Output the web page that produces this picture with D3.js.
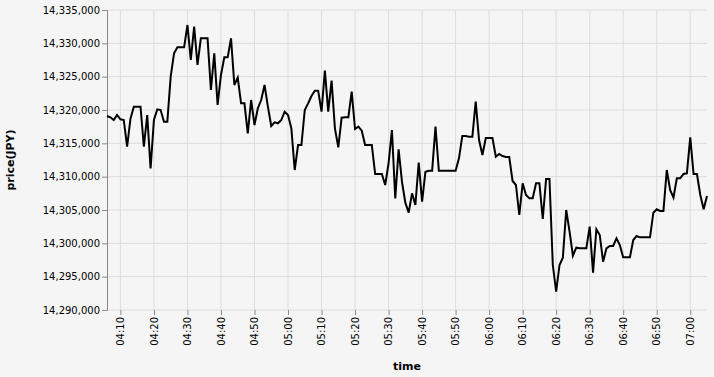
<!DOCTYPE html>
<html>
<head>
<meta charset="utf-8">
<script src="https://cdn.jsdelivr.net/npm/d3@7"></script>
<style>
  html, body { margin: 0; padding: 0; background: #f5f5f5; }
  svg { display: block; font-family: "DejaVu Sans", sans-serif; }
</style>
</head>
<body>
<svg id="drawing_region"></svg>
<script>
// one price per minute, starting 04:06
const start_time = "04:06";
const prices = [
    14319100, 14318900, 14318500, 14319250, 14318600, 14318500, 14314500, 14318700, 14320500, 14320500,
    14320500, 14314500, 14319250, 14311250, 14318500, 14320100, 14320000, 14318250, 14318250, 14325000,
    14328500, 14329400, 14329400, 14329400, 14332750, 14327500, 14332500, 14326750, 14330750, 14330750,
    14330750, 14323000, 14328500, 14320750, 14325250, 14327900, 14327900, 14330750, 14323750, 14324850,
    14321000, 14321000, 14316500, 14321500, 14317750, 14320250, 14321500, 14323750, 14320500, 14317600,
    14318150, 14318000, 14318500, 14319750, 14319250, 14317250, 14311000, 14314750, 14314750, 14320000,
    14321000, 14322100, 14322900, 14322900, 14319750, 14325900, 14319750, 14324400, 14317250, 14314400,
    14318850, 14318900, 14318900, 14322750, 14317150, 14317500, 14316900, 14314750, 14314750, 14314750,
    14310400, 14310400, 14310400, 14308750, 14312000, 14317000, 14306750, 14314100, 14309250, 14306100,
    14304600, 14307500, 14305750, 14312100, 14306250, 14310750, 14310900, 14310900, 14317500, 14310900,
    14310900, 14310900, 14310900, 14310900, 14310900, 14312750, 14316100, 14316100, 14316000, 14316000,
    14321250, 14315500, 14313250, 14315800, 14315800, 14315800, 14313000, 14313400, 14313100, 14312950,
    14312950, 14309350, 14308750, 14304250, 14309000, 14307250, 14306750, 14306750, 14309000, 14309000,
    14303650, 14309650, 14309650, 14296750, 14292750, 14296750, 14297850, 14305000, 14301750, 14298150,
    14299350, 14299250, 14299250, 14299250, 14302500, 14295600, 14302100, 14301250, 14297250, 14299250,
    14299600, 14299600, 14300750, 14299750, 14297900, 14297900, 14297900, 14300500, 14301100, 14300900,
    14300900, 14300900, 14300900, 14304600, 14305100, 14304850, 14304850, 14311000, 14308000, 14306850,
    14309750, 14309750, 14310400, 14310500, 14315900, 14310400, 14310400, 14307250, 14305100, 14307100
];
const y_ticks = [14290000, 14295000, 14300000, 14305000, 14310000, 14315000, 14320000, 14325000, 14330000, 14335000];
const x_tick_labels = ["04:10", "04:20", "04:30", "04:40", "04:50", "05:00", "05:10", "05:20", "05:30",
    "05:40", "05:50", "06:00", "06:10", "06:20", "06:30", "06:40", "06:50", "07:00"];

const parse_time = d3.timeParse("%H:%M");
const t0 = parse_time(start_time);
const data = prices.map((p, i) => ({ time: d3.timeMinute.offset(t0, i), price: p }));

class LineChart {

    constructor(config, data) {
        this.config = config;
        this.data = data;
        this.init();
    }

    init() {
        let self = this;

        self.svg = d3.select(self.config.parent)
            .attr('width', self.config.width)
            .attr('height', self.config.height);

        self.chart = self.svg.append('g')
            .attr('transform', `translate(${self.config.margin.left}, ${self.config.margin.top})`);

        self.inner_width = self.config.width - self.config.margin.left - self.config.margin.right;
        self.inner_height = self.config.height - self.config.margin.top - self.config.margin.bottom;

        self.xscale = d3.scaleTime()
            .domain(d3.extent(self.data, d => d.time))
            .range([0, self.inner_width]);

        self.yscale = d3.scaleLinear()
            .domain([y_ticks[0], y_ticks[y_ticks.length - 1]])
            .range([self.inner_height, 0]);

        self.xaxis = d3.axisBottom(self.xscale)
            .tickValues(x_tick_labels.map(parse_time))
            .tickFormat(d3.timeFormat("%H:%M"))
            .tickSize(5)
            .tickPadding(2);

        self.yaxis = d3.axisLeft(self.yscale)
            .tickValues(y_ticks)
            .tickFormat(d3.format(","))
            .tickSize(5)
            .tickPadding(2);
    }

    render() {
        let self = this;

        // grid
        self.chart.append('g')
            .selectAll('line')
            .data(y_ticks)
            .join('line')
            .attr('x1', 0).attr('x2', self.inner_width)
            .attr('y1', d => self.yscale(d)).attr('y2', d => self.yscale(d))
            .attr('stroke', '#ddd');

        self.chart.append('g')
            .selectAll('line')
            .data(x_tick_labels.map(parse_time))
            .join('line')
            .attr('x1', d => self.xscale(d)).attr('x2', d => self.xscale(d))
            .attr('y1', 0).attr('y2', self.inner_height)
            .attr('stroke', '#ddd');

        const xg = self.chart.append('g')
            .attr('transform', `translate(0, ${self.inner_height})`)
            .call(self.xaxis)
            .attr('font-family', '"DejaVu Sans", sans-serif');
        xg.select('.domain').remove();
        xg.selectAll('line').attr('stroke', '#888');
        xg.selectAll('text')
            .attr('font-size', 10)
            .attr('fill', '#000')
            .attr('transform', 'rotate(-90)')
            .attr('text-anchor', 'end')
            .attr('x', -7)
            .attr('y', 0)
            .attr('dy', '0.32em');

        const yg = self.chart.append('g')
            .call(self.yaxis)
            .attr('font-family', '"DejaVu Sans", sans-serif');
        yg.select('.domain').attr('stroke', '#888');
        yg.selectAll('line').attr('stroke', '#888');
        yg.selectAll('text')
            .attr('font-size', 10)
            .attr('fill', '#000');

        const line = d3.line()
            .x(d => self.xscale(d.time))
            .y(d => self.yscale(d.price));

        self.chart.append('path')
            .datum(self.data)
            .attr('d', line)
            .attr('fill', 'none')
            .attr('stroke', '#000')
            .attr('stroke-width', 2)
            .attr('stroke-linejoin', 'miter');

        // axis titles
        self.svg.append('text')
            .attr('x', self.config.margin.left + self.inner_width / 2)
            .attr('y', 370)
            .attr('text-anchor', 'middle')
            .attr('font-size', 11)
            .attr('font-weight', 'bold')
            .text('time');

        self.svg.append('text')
            .attr('transform', `translate(14, ${self.config.margin.top + self.inner_height / 2}) rotate(-90)`)
            .attr('text-anchor', 'middle')
            .attr('font-size', 11)
            .attr('font-weight', 'bold')
            .text('price(JPY)');
    }
}

const config = {
    parent: '#drawing_region',
    width: 714,
    height: 377,
    margin: { top: 10, right: 7, bottom: 67, left: 107 }
};

const chart = new LineChart(config, data);
chart.render();
</script>
</body>
</html>
